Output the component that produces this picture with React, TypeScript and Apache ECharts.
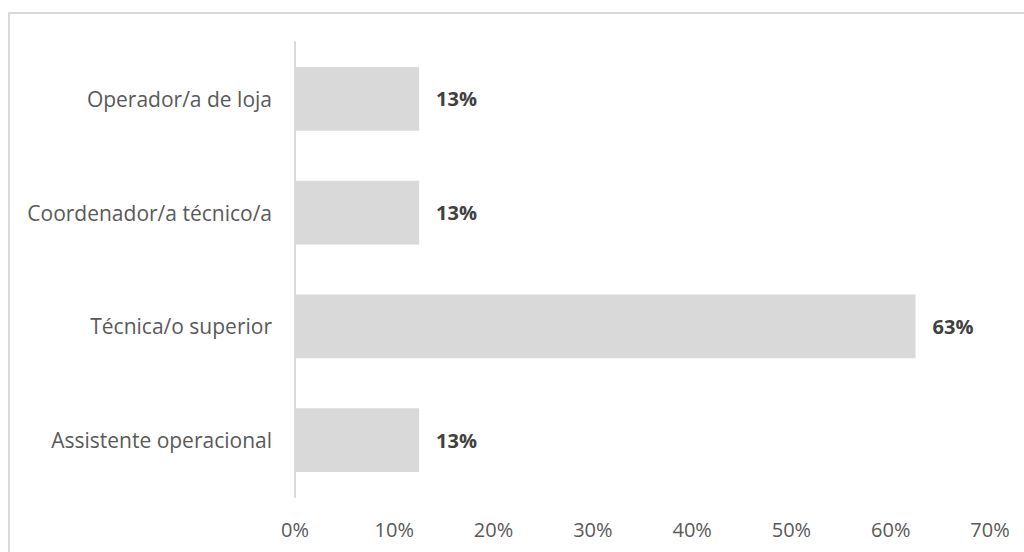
import React, { useEffect, useRef } from "react";
import * as echarts from "echarts";

const categories = [
  "Assistente operacional",
  "Técnica/o superior",
  "Coordenador/a técnico/a",
  "Operador/a de loja",
];
const values = [12.5, 62.5, 12.5, 12.5];
const xTicks = { min: 0, max: 70, interval: 10 };

export default function App() {
  const ref = useRef<HTMLDivElement>(null);
  useEffect(() => {
    if (!ref.current) return;
    const chart = echarts.init(ref.current, null, { renderer: "svg" });
    const font = "'Open Sans', sans-serif";
    chart.setOption({
      animation: false,
      backgroundColor: "#ffffff",
      graphic: [
        {
          type: "rect",
          shape: { x: 9, y: 13, width: 1030, height: 600 },
          style: { fill: "none", stroke: "#d9d9d9", lineWidth: 2 },
          silent: true,
        },
      ],
      grid: { left: 295, top: 42, right: 34, bottom: 55, containLabel: false },
      xAxis: {
        type: "value",
        min: xTicks.min,
        max: xTicks.max,
        interval: xTicks.interval,
        axisLine: { show: false },
        axisTick: { show: false },
        splitLine: { show: false },
        axisLabel: {
          formatter: "{value}%",
          color: "#595959",
          fontFamily: font,
          fontSize: 20,
          margin: 22,
        },
      },
      yAxis: {
        type: "category",
        data: categories,
        axisLine: { show: true, lineStyle: { color: "#d9d9d9", width: 2 } },
        axisTick: { show: false },
        axisLabel: {
          color: "#595959",
          fontFamily: font,
          fontSize: 21,
          margin: 23,
        },
      },
      series: [
        {
          type: "bar",
          data: values,
          barWidth: "56%",
          itemStyle: { color: "#d9d9d9" },
          label: {
            show: true,
            position: "right",
            distance: 17,
            formatter: (p: any) => Math.round(p.value) + "%",
            color: "#404040",
            fontWeight: "bold",
            fontFamily: font,
            fontSize: 20,
          },
        },
      ],
    });
    return () => chart.dispose();
  }, []);
  return (
    <div
      ref={ref}
      style={{ position: "absolute", left: 0, top: 0, width: 1024, height: 552 }}
    />
  );
}
